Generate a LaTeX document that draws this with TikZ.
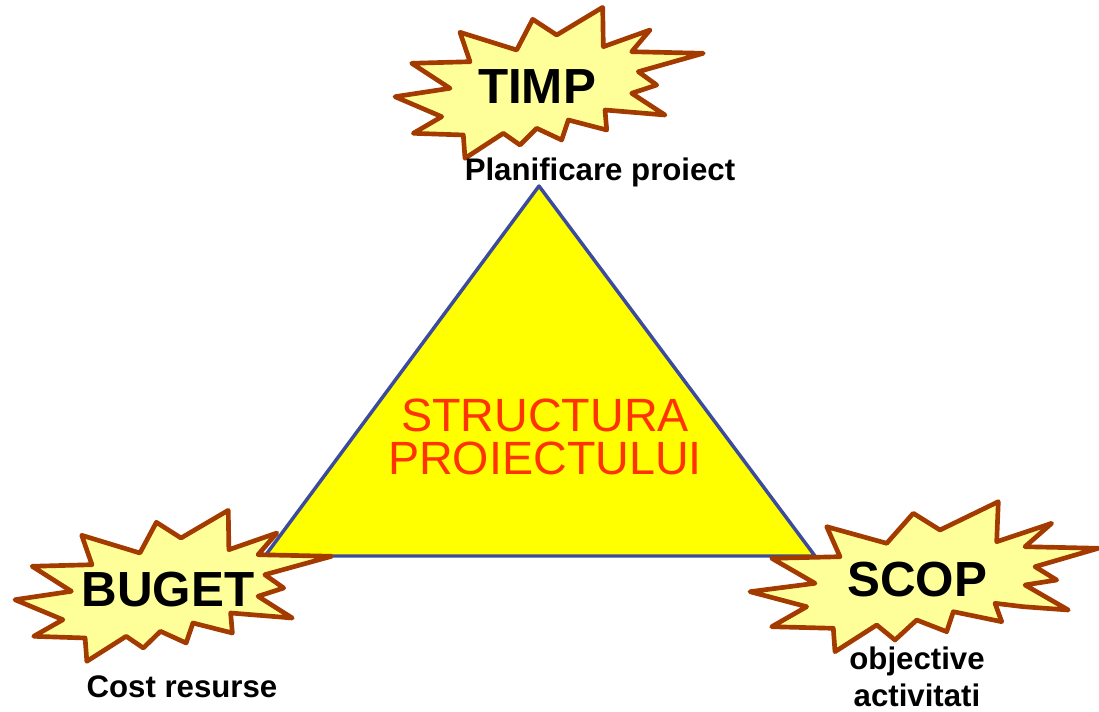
\documentclass[tikz,border=0pt]{standalone}
\usepackage{fontspec}
\setmainfont{Liberation Sans}
\usetikzlibrary{positioning}
\definecolor{BurstLine}{RGB}{163,58,0}
\definecolor{BurstFill}{RGB}{255,255,153}
\definecolor{TriangleLine}{RGB}{60,75,155}
\definecolor{TriangleFill}{RGB}{255,255,0}
\definecolor{TitleRed}{RGB}{255,51,0}

\tikzset{
	burstline/.style = {line width=3.5pt, draw=BurstLine, fill=BurstFill, line join=round},
	burst/.pic = {
		\draw[burstline]
			(57.7,-72.7) -- (58.3,-33.3) -- (105,-50) -- (86.7,-28.3) -- (158.3,-26.7)
			-- (93.3,-8.3) -- (111.7,5) -- (86.7,13.3) -- (120,35) -- (60,30) -- (61.7,50)
			-- (23.3,40) -- (16.7,60) -- (-8.3,48.3) -- (-25,65) -- (-41.7,53.3) -- (-80,78.3)
			-- (-81.7,55) -- (-131.7,53.3) -- (-103.3,36.7) -- (-150,16.7) -- (-95,8.3)
			-- (-133.3,-16.7) -- (-75,-18.3) -- (-85,-47.7) -- (-28.3,-30) -- (-12.3,-60.7)
			-- (11.7,-45) -- cycle;
	}
}

\begin{document}
\begin{tikzpicture} [x=0.75pt, y=-0.75pt, thick,
	   every node/.style={inner sep=0pt, text=black},
	   bursttext/.style = {font=\fontsize{37}{37}\selectfont\bfseries},
	   smalltext/.style = {font=\fontsize{23.4}{27.5}\selectfont\bfseries, align=center}]
	\useasboundingbox (0,0) rectangle (1099,712);

	%% Triangle
	\coordinate (top) at (539,186);
	\coordinate (left) at (265,556);
	\coordinate (right) at (815,556);
	\draw[line width=2.6pt, draw=TriangleLine, fill=TriangleFill, line join=round] (top) -- (left) -- (right) -- cycle;
	\node [font=\fontsize{35}{32}\selectfont, text=TitleRed, align=center] (title) at (545,437) {STRUCTURA\\PROIECTULUI};

	%% Bursts
	\pic at (545,80) {burst};
	\pic[xscale=1.027] at (169,583) {burst};
	\draw[burstline] (998.3,501.7) -- (996.7,541.7) -- (1051.7,523.3) -- (1025,546.7) -- (1098.3,548.3)
		-- (1035,566.7) -- (1056.7,580) -- (1025,585) -- (1068.3,610) -- (1023.3,606.7) -- (995,603.3)
		-- (1001.7,621.7) -- (953.3,611.7) -- (946.7,631.7) -- (916.7,620) -- (895,640) -- (876.7,625)
		-- (835,651.7) -- (833.3,628.3) -- (771.7,626.7) -- (806.7,606.7) -- (750,591.7) -- (815,583.3)
		-- (771.7,558.3) -- (840,556.7) -- (826.7,526.7) -- (886.7,543.3) -- (913.3,513.3) -- (940,530) -- cycle;

	%% Texts
	\node [bursttext] (timp) at (537,87) {TIMP};
	\node [bursttext] (buget) at (168,590) {BUGET};
	\node [bursttext] (scop) at (917,580) {SCOP};
	\node [smalltext] (plan) at (600,172) {Planificare proiect};
	\node [smalltext] (cost) at (182,687) {Cost resurse};
	\node [smalltext,below = 36.5pt of scop.south] (obj) {objective\\activitati};
\end{tikzpicture}
\end{document}
